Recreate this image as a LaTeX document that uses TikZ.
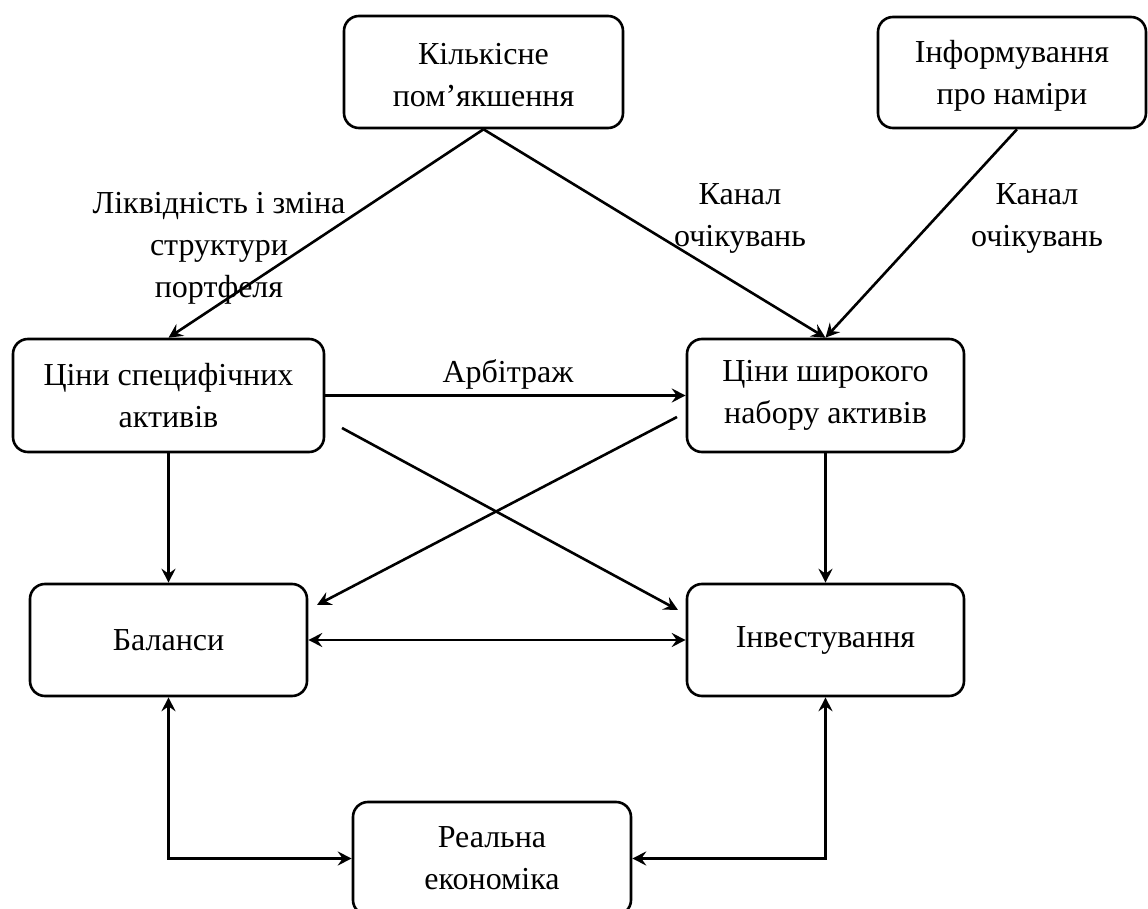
\documentclass[tikz,border=0pt]{standalone}
\usepackage{fontspec}
\setmainfont{Liberation Serif}
\usetikzlibrary{arrows.meta}
\begin{document}
\begin{tikzpicture}[x=0.5pt,y=-0.5pt,
  box/.style={draw, rounded corners=7.5pt, line width=1.3pt, align=center, inner sep=0pt, font=\fontsize{16}{21}\selectfont},
  lbl/.style={align=center, inner sep=0pt, font=\fontsize{16}{21}\selectfont},
  conn/.style={line width=1.3pt, -{Stealth[length=7pt,width=7pt,inset=2.5pt]}},
  connb/.style={line width=1.3pt, {Stealth[length=7pt,width=7pt,inset=2.5pt]}-{Stealth[length=7pt,width=7pt,inset=2.5pt]}}]
\useasboundingbox (0,0) rectangle (1148,909);
\fill[white] (0,0) rectangle (1148,909);
% boxes
\node[box, minimum width=139.5pt, minimum height=56pt] (kq) at (483.5,72) {\rule{0pt}{14pt}Кількісне\\пом’якшення};
\node[box, minimum width=134pt, minimum height=55.5pt] (inf) at (1012,72.5) {\rule{0pt}{14pt}Інформування\\про наміри};
\node[box, minimum width=155.5pt, minimum height=56.5pt] (csa) at (168.5,395.5) {Ціни специфічних\\активів};
\node[box, minimum width=138.5pt, minimum height=56.5pt] (csh) at (825.5,395.5) {Ціни широкого\\набору активів};
\node[box, minimum width=138.5pt, minimum height=56pt] (bal) at (168.5,640) {Баланси};
\node[box, minimum width=138.5pt, minimum height=56pt] (inv) at (825.5,640) {Інвестування};
\node[box, minimum width=139pt, minimum height=56.5pt] (re) at (492,858.5) {Реальна\\економіка};
% labels
\node[lbl] (l1) at (219,248) {Ліквідність і зміна\\структури\\портфеля};
\node[lbl] (l2) at (740,218) {Канал\\очікувань};
\node[lbl] (l3) at (1037,218) {Канал\\очікувань};
\node[lbl] (l4) at (508,374) {Арбітраж};
% free ends of the crossing connectors
\coordinate (d1s) at (342,428);
\coordinate (d1e) at (678,610);
\coordinate (d2s) at (677,417);
\coordinate (d2e) at (317,605);
% connectors
\draw[conn] (kq.south) -- (csa.north);
\draw[conn] (kq.south) -- (csh.north);
\draw[conn] ([xshift=2.5pt]inf.south) -- (csh.north);
\draw[conn] (csa.east) -- (csh.west);
\draw[conn] (d1s) -- (d1e);
\draw[conn] (d2s) -- (d2e);
\draw[conn] (csa.south) -- (bal.north);
\draw[conn] (csh.south) -- (inv.north);
\draw[connb] (bal.east) -- (inv.west);
\draw[connb] (bal.south) |- (re.west);
\draw[connb] (inv.south) |- (re.east);
\end{tikzpicture}
\end{document}
